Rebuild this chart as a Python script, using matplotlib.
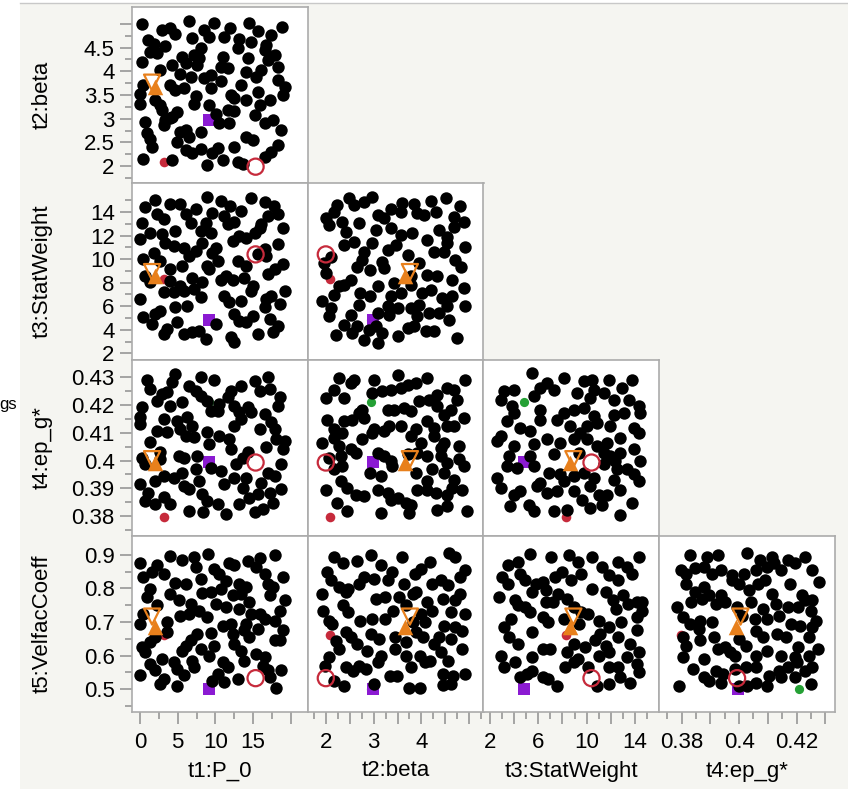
import matplotlib.pyplot as plt
from matplotlib.patches import Rectangle
from matplotlib.lines import Line2D

plt.rcParams['font.family'] = ['Liberation Sans', 'DejaVu Sans']

names = ["t1:P_0", "t2:beta", "t3:StatWeight", "t4:ep_g*", "t5:VelfacCoeff"]

# axis ranges as drawn (columns: t1..t4 on x, rows: t2..t5 on y)
col_lims = [(-1.07, 22.28), (1.61, 5.31), (1.46, 16.01), (0.3722, 0.4334)]
row_lims = [(1.641, 5.354), (1.49, 16.43), (0.3730, 0.4363), (0.4324, 0.9563)]

col_major = [[0, 5, 10, 15, 20], [2, 2.5, 3, 3.5, 4, 4.5, 5],
             [2, 4, 6, 8, 10, 12, 14], [0.38, 0.39, 0.40, 0.41, 0.42, 0.43]]
col_labels = [['0', '5', '10', '15', ''], ['2', '', '3', '', '4', '', ''],
              ['2', '', '6', '', '10', '', '14'], ['0.38', '', '0.4', '', '0.42', '']]
col_minor = [[2.5, 7.5, 12.5, 17.5], [1.75, 2.25, 2.75, 3.25, 3.75, 4.25, 4.75, 5.25],
             [3, 5, 7, 9, 11, 13, 15], [0.375, 0.385, 0.395, 0.405, 0.415, 0.425]]
row_major = [[2, 2.5, 3, 3.5, 4, 4.5, 5], [2, 4, 6, 8, 10, 12, 14],
             [0.38, 0.39, 0.40, 0.41, 0.42, 0.43], [0.5, 0.6, 0.7, 0.8, 0.9]]
row_labels = [['2', '2.5', '3', '3.5', '4', '4.5', ''], ['2', '4', '6', '8', '10', '12', '14'],
              ['0.38', '0.39', '0.4', '0.41', '0.42', '0.43'], ['0.5', '0.6', '0.7', '0.8', '0.9']]
row_minor = [[1.75, 2.25, 2.75, 3.25, 3.75, 4.25, 4.75], [3, 5, 7, 9, 11, 13, 15],
             [0.375, 0.385, 0.395, 0.405, 0.415, 0.425], [0.45, 0.55, 0.65, 0.75, 0.85]]

# black points, one list per panel (x, y)
t1_t2 = [(0.2, 4.99), (6.49, 5.06), (9.84, 5.02), (14.54, 5.01), (18.88, 4.94), (2.91, 4.87), (4.03, 4.92),
         (4.70, 4.78), (8.50, 4.87), (9.17, 4.73), (11.99, 4.92), (11.19, 4.73), (15.66, 4.85), (17.36, 4.76),
         (6.94, 4.71), (1.12, 4.66), (1.79, 4.57), (3.36, 4.54), (1.34, 4.41), (8.05, 4.50), (7.16, 4.34),
         (7.83, 4.27), (13.20, 4.69), (12.98, 4.50), (14.77, 4.61), (16.78, 4.55), (16.55, 4.45), (10.96, 4.31),
         (0.22, 4.20), (2.24, 4.38), (5.59, 4.31), (6.04, 4.17), (7.61, 4.14), (10.74, 4.10), (11.63, 4.06),
         (14.32, 4.27), (14.09, 3.99), (16.11, 4.03), (17.00, 4.24), (17.90, 4.34), (18.34, 4.10), (4.25, 4.13),
         (2.68, 4.03), (5.37, 3.95), (6.71, 3.88), (8.50, 3.85), (9.40, 3.92), (10.74, 3.79), (13.42, 3.72),
         (15.44, 3.88), (18.34, 3.81), (19.24, 3.67), (0.45, 3.71), (4.03, 3.71), (4.70, 3.60), (5.82, 3.64),
         (9.40, 3.64), (0.0, 3.53), (0.0, 3.32), (2.01, 3.39), (2.68, 3.29), (2.91, 3.18), (7.38, 3.48),
         (7.16, 3.32), (9.17, 3.29), (12.08, 3.51), (12.53, 3.43), (14.09, 3.39), (15.66, 3.57), (17.23, 3.39),
         (19.02, 3.50), (15.88, 3.29), (11.63, 3.18), (12.53, 3.16), (4.92, 3.15), (0.67, 2.94), (3.36, 2.97),
         (4.03, 3.01), (4.25, 3.04), (3.13, 2.86), (10.07, 3.11), (10.51, 2.90), (11.86, 2.90), (15.21, 3.08),
         (16.55, 2.92), (17.67, 2.97), (0.89, 2.69), (1.34, 2.58), (5.37, 2.72), (6.04, 2.76), (6.49, 2.62),
         (8.05, 2.72), (14.09, 2.62), (14.99, 2.55), (18.79, 2.76), (1.57, 2.41), (4.92, 2.50), (6.04, 2.34),
         (6.94, 2.27), (8.05, 2.37), (9.62, 2.27), (10.29, 2.39), (12.53, 2.41), (16.55, 2.20), (17.45, 2.30),
         (18.34, 2.44), (0.36, 2.16), (4.25, 2.13), (8.95, 2.02), (10.96, 2.13), (12.98, 2.09), (13.65, 2.04)]

t1_t3 = [(2.01, 15.05), (0.67, 14.41), (3.94, 14.69), (5.37, 14.63), (8.86, 15.25), (10.74, 14.91), (11.99, 14.49),
         (14.77, 15.14), (16.55, 14.86), (17.81, 14.49), (7.38, 14.21), (6.04, 13.79), (9.62, 13.93), (11.19, 13.65),
         (13.42, 14.12), (2.24, 13.79), (3.13, 13.36), (0.22, 13.08), (6.71, 13.08), (8.72, 13.08), (11.63, 12.94),
         (12.53, 13.17), (16.11, 12.94), (17.00, 13.65), (18.34, 13.79), (19.02, 12.66), (1.34, 12.24), (2.91, 12.10),
         (4.70, 12.38), (8.05, 12.38), (9.40, 12.24), (13.20, 11.96), (15.21, 12.24), (15.88, 12.66), (0.0, 11.68),
         (3.36, 11.40), (4.47, 11.12), (5.82, 10.97), (8.28, 11.40), (10.07, 10.97), (12.30, 11.54), (14.09, 11.82),
         (18.34, 11.25), (1.79, 10.55), (7.38, 10.69), (9.62, 10.55), (10.29, 9.85), (6.49, 10.27), (16.55, 10.83),
         (16.78, 10.27), (15.66, 10.41), (12.98, 9.85), (14.09, 9.43), (19.02, 9.57), (17.90, 9.15), (8.95, 9.43),
         (0.45, 9.99), (2.68, 9.85), (4.03, 9.15), (5.59, 9.43), (0.67, 8.58), (1.34, 8.02), (9.17, 9.15),
         (10.74, 8.22), (11.41, 8.58), (12.30, 8.22), (13.87, 8.44), (17.00, 8.72), (6.94, 8.44), (5.37, 7.74),
         (8.28, 8.02), (14.99, 7.74), (4.03, 8.16), (3.13, 7.18), (4.47, 7.18), (5.82, 7.32), (7.16, 7.46),
         (8.05, 6.75), (11.19, 6.89), (11.86, 6.33), (13.42, 6.47), (14.77, 7.32), (17.45, 6.89), (16.78, 6.61),
         (19.24, 7.32), (0.0, 6.61), (6.26, 6.05), (4.70, 5.91), (16.55, 5.91), (18.57, 6.19), (2.01, 5.35),
         (2.68, 5.63), (0.45, 5.07), (1.57, 4.50), (4.92, 4.64), (10.07, 4.50), (12.53, 5.35), (13.20, 4.78),
         (14.09, 4.64), (14.99, 5.21), (17.23, 4.93), (18.34, 4.36), (3.13, 3.66), (3.58, 4.08), (5.82, 3.66),
         (6.94, 3.80), (7.83, 3.94), (8.72, 3.24), (12.08, 3.38), (12.53, 2.96), (15.66, 3.66), (17.67, 3.80)]

t1_t4 = [(0.89, 0.4289), (4.70, 0.4311), (4.25, 0.4281), (8.05, 0.4299), (9.84, 0.4289), (13.42, 0.4269),
         (15.21, 0.4287), (17.00, 0.4299), (17.23, 0.4257), (12.08, 0.4251), (11.63, 0.4227), (1.34, 0.4257),
         (2.91, 0.4239), (3.58, 0.4245), (6.49, 0.4269), (7.38, 0.4251), (8.05, 0.4233), (8.90, 0.4213),
         (2.24, 0.4215), (4.03, 0.4197), (5.59, 0.4209), (10.51, 0.4203), (9.40, 0.4179), (12.53, 0.4197),
         (14.32, 0.4191), (13.20, 0.4173), (18.57, 0.4227), (18.34, 0.4197), (15.88, 0.4251), (0.22, 0.4191),
         (0.0, 0.4155), (0.0, 0.4131), (3.13, 0.4149), (4.92, 0.4143), (6.26, 0.4155), (6.94, 0.4125),
         (5.37, 0.4113), (10.29, 0.4179), (12.53, 0.4125), (13.42, 0.4149), (14.77, 0.4173), (16.55, 0.4167),
         (15.88, 0.4113), (17.45, 0.4137), (17.90, 0.4113), (2.24, 0.4107), (3.58, 0.4101), (6.04, 0.4089),
         (7.16, 0.4083), (8.95, 0.4101), (9.17, 0.4059), (10.51, 0.4089), (11.86, 0.4077), (12.08, 0.4041),
         (1.34, 0.4065), (2.68, 0.4029), (5.15, 0.4017), (5.82, 0.4011), (7.61, 0.4017), (14.32, 0.4029),
         (16.78, 0.4047), (18.12, 0.4077), (19.02, 0.4041), (19.24, 0.4071), (0.22, 0.4011), (0.67, 0.3987),
         (2.68, 0.4005), (9.40, 0.3975), (10.74, 0.3963), (12.75, 0.3987), (13.65, 0.4011), (18.79, 0.3987),
         (17.00, 0.3957), (7.38, 0.3969), (5.59, 0.3957), (4.47, 0.3939), (3.13, 0.3945), (0.0, 0.3917),
         (2.01, 0.3927), (5.82, 0.3909), (6.49, 0.3897), (7.83, 0.3927), (11.19, 0.3917), (12.53, 0.3939),
         (13.65, 0.3903), (14.09, 0.3936), (16.11, 0.3921), (17.90, 0.3945), (18.79, 0.3897), (17.23, 0.3885),
         (1.12, 0.3885), (0.67, 0.3855), (2.01, 0.3843), (3.13, 0.3869), (4.03, 0.3843), (8.28, 0.3879),
         (8.95, 0.3855), (10.29, 0.3843), (14.54, 0.3867), (15.66, 0.3879), (13.20, 0.3843), (17.67, 0.3849),
         (6.49, 0.3819), (8.41, 0.3817), (11.41, 0.3807), (15.21, 0.3817), (16.33, 0.3825)]

t1_t5 = [(0.0, 0.875), (3.94, 0.895), (5.59, 0.885), (7.16, 0.893), (9.04, 0.903), (11.86, 0.875), (14.32, 0.881),
         (15.88, 0.891), (17.99, 0.898), (2.24, 0.868), (3.13, 0.843), (1.57, 0.848), (0.45, 0.833), (7.38, 0.863),
         (9.84, 0.858), (10.51, 0.843), (12.53, 0.868), (15.44, 0.863), (16.55, 0.843), (19.02, 0.835),
         (8.05, 0.828), (11.41, 0.823), (4.70, 0.815), (6.04, 0.813), (13.20, 0.813), (14.09, 0.804),
         (17.00, 0.813), (17.67, 0.804), (1.34, 0.799), (0.89, 0.774), (4.03, 0.784), (8.28, 0.786),
         (9.40, 0.789), (10.74, 0.799), (12.30, 0.779), (13.42, 0.784), (5.15, 0.764), (6.71, 0.754),
         (10.07, 0.752), (11.41, 0.744), (13.20, 0.739), (17.23, 0.779), (19.24, 0.764), (14.54, 0.759),
         (2.24, 0.749), (18.57, 0.734), (0.45, 0.724), (5.37, 0.719), (6.49, 0.724), (7.83, 0.734),
         (8.95, 0.714), (14.77, 0.724), (15.88, 0.724), (16.55, 0.709), (17.90, 0.702), (0.0, 0.694),
         (3.58, 0.699), (10.96, 0.689), (12.08, 0.694), (14.09, 0.694), (15.66, 0.680), (19.02, 0.675),
         (3.58, 0.670), (7.61, 0.665), (9.40, 0.667), (12.30, 0.665), (13.87, 0.675), (14.54, 0.655),
         (1.34, 0.640), (6.71, 0.645), (6.04, 0.630), (8.05, 0.620), (9.84, 0.630), (12.53, 0.635),
         (13.42, 0.615), (17.90, 0.645), (18.57, 0.645), (0.22, 0.625), (0.67, 0.610), (5.59, 0.615),
         (9.17, 0.600), (15.44, 0.605), (16.55, 0.595), (1.34, 0.575), (2.91, 0.590), (4.47, 0.580),
         (6.94, 0.585), (10.96, 0.580), (13.87, 0.585), (16.33, 0.570), (17.00, 0.556), (2.01, 0.556),
         (4.92, 0.561), (7.16, 0.565), (0.0, 0.541), (3.13, 0.531), (2.68, 0.516), (4.92, 0.511),
         (5.82, 0.541), (10.29, 0.546), (11.63, 0.565), (11.19, 0.521), (12.98, 0.531), (18.79, 0.556),
         (17.23, 0.536), (18.12, 0.504), (9.62, 0.526), (2.01, 0.655)]

t2_t3 = [(2.48, 15.14), (2.79, 14.86), (2.97, 15.28), (3.36, 14.21), (3.60, 14.77), (3.85, 14.66), (4.20, 14.94),
         (4.51, 15.14), (4.82, 14.49), (2.23, 14.57), (1.99, 13.45), (2.06, 12.89), (2.16, 14.01), (2.34, 13.17),
         (2.58, 14.57), (2.69, 13.03), (3.08, 13.73), (3.22, 13.45), (3.57, 14.01), (3.92, 13.87), (4.06, 13.73),
         (4.30, 14.01), (4.69, 13.59), (4.90, 13.17), (2.41, 12.32), (2.58, 11.48), (3.04, 12.46), (3.36, 12.60),
         (3.57, 12.04), (3.81, 12.18), (4.13, 11.62), (4.37, 12.46), (4.69, 12.75), (4.55, 11.90), (2.37, 11.20),
         (2.79, 10.64), (2.97, 11.34), (3.29, 10.78), (3.46, 11.20), (3.71, 10.35), (4.27, 10.64), (4.48, 10.64),
         (4.55, 11.34), (4.93, 11.06), (2.09, 10.21), (1.95, 9.65), (1.99, 8.81), (2.76, 9.93), (3.18, 9.79),
         (2.65, 9.37), (2.93, 9.09), (3.22, 9.23), (3.95, 9.65), (4.13, 8.67), (4.34, 8.53), (4.72, 9.93),
         (4.83, 9.37), (3.78, 8.53), (4.65, 8.24), (3.43, 7.96), (2.27, 7.68), (2.16, 6.98), (2.51, 8.24),
         (2.37, 7.82), (2.72, 7.12), (2.93, 6.84), (3.08, 7.68), (3.36, 6.84), (3.57, 7.12), (3.78, 7.82),
         (4.02, 7.12), (4.20, 7.40), (4.44, 6.70), (4.65, 6.84), (4.90, 7.54), (1.92, 6.42), (3.29, 5.99),
         (3.50, 5.85), (2.09, 5.85), (2.06, 5.15), (2.37, 4.45), (2.51, 5.29), (2.69, 6.14), (3.08, 5.43),
         (3.32, 5.29), (3.78, 5.85), (3.95, 6.14), (3.92, 5.15), (4.16, 5.43), (4.37, 5.43), (4.55, 5.99),
         (4.58, 4.87), (4.93, 5.99), (2.65, 4.31), (2.20, 3.60), (2.55, 3.74), (2.79, 3.18), (2.90, 4.03),
         (3.08, 2.90), (3.18, 3.74), (3.50, 3.46), (3.71, 4.17), (3.85, 4.31), (4.09, 3.88), (4.27, 3.88),
         (4.76, 3.32), (3.04, 4.31)]

t2_t4 = [(2.27, 0.4297), (2.51, 0.4279), (2.58, 0.4291), (3.00, 0.4291), (3.50, 0.4309), (3.71, 0.4273),
         (3.88, 0.4279), (4.13, 0.4297), (4.55, 0.4261), (4.69, 0.4255), (4.93, 0.4291), (2.16, 0.4255),
         (2.37, 0.4225), (1.99, 0.4225), (3.18, 0.4249), (3.36, 0.4255), (3.57, 0.4261), (2.97, 0.4243),
         (4.16, 0.4219), (4.34, 0.4237), (4.76, 0.4219), (2.02, 0.4147), (2.37, 0.4141), (2.55, 0.4147),
         (2.69, 0.4171), (2.76, 0.4183), (2.79, 0.4153), (3.29, 0.4183), (3.43, 0.4183), (3.64, 0.4189),
         (3.78, 0.4177), (3.95, 0.4213), (4.34, 0.4195), (4.48, 0.4165), (4.62, 0.4183), (4.90, 0.4153),
         (3.00, 0.4112), (2.16, 0.4112), (3.57, 0.4124), (4.13, 0.4141), (4.27, 0.4118), (4.55, 0.4124),
         (4.69, 0.4124), (1.92, 0.4064), (2.16, 0.4082), (2.34, 0.4100), (2.27, 0.4052), (2.76, 0.4076),
         (2.97, 0.4100), (3.22, 0.4106), (3.32, 0.4124), (3.78, 0.4088), (3.88, 0.4112), (3.99, 0.4064),
         (4.27, 0.4088), (4.48, 0.4064), (4.41, 0.4046), (4.79, 0.4052), (2.51, 0.4040), (3.08, 0.4028),
         (2.06, 0.4010), (2.30, 0.4016), (2.62, 0.4028), (3.22, 0.4016), (3.36, 0.3998), (3.71, 0.4022),
         (3.92, 0.4028), (4.13, 0.4016), (4.41, 0.4016), (4.55, 0.3992), (4.79, 0.4004), (2.16, 0.3968),
         (2.34, 0.3980), (2.93, 0.3956), (3.15, 0.3944), (3.39, 0.3980), (3.88, 0.3956), (4.23, 0.3968),
         (4.48, 0.3956), (4.69, 0.3932), (4.90, 0.3980), (1.99, 0.3896), (2.30, 0.3926), (2.44, 0.3902),
         (2.62, 0.3878), (2.79, 0.3872), (3.08, 0.3896), (3.29, 0.3884), (3.50, 0.3866), (3.67, 0.3848),
         (3.78, 0.3842), (3.92, 0.3896), (4.13, 0.3896), (4.30, 0.3884), (4.55, 0.3878), (4.65, 0.3902),
         (4.86, 0.3896), (2.23, 0.3848), (2.44, 0.3818), (3.15, 0.3812), (3.74, 0.3812), (4.34, 0.3824),
         (4.55, 0.3836), (4.97, 0.3818), (3.36, 0.3860), (4.13, 0.3926)]

t2_t5 = [(2.16, 0.892), (2.35, 0.874), (2.64, 0.882), (2.94, 0.899), (3.16, 0.869), (3.60, 0.894), (3.38, 0.849),
         (3.86, 0.844), (4.00, 0.856), (4.19, 0.879), (4.59, 0.904), (4.70, 0.894), (4.93, 0.854), (4.82, 0.834),
         (2.01, 0.849), (2.09, 0.826), (2.27, 0.804), (2.46, 0.799), (2.79, 0.834), (2.68, 0.814), (3.01, 0.829),
         (3.30, 0.824), (3.64, 0.814), (3.89, 0.789), (4.23, 0.814), (4.41, 0.824), (4.56, 0.809), (4.82, 0.784),
         (1.90, 0.784), (2.42, 0.789), (3.05, 0.769), (3.23, 0.774), (3.53, 0.774), (3.82, 0.784), (4.11, 0.759),
         (4.45, 0.769), (4.70, 0.764), (1.94, 0.734), (2.13, 0.694), (2.35, 0.749), (2.46, 0.729), (2.71, 0.704),
         (2.97, 0.709), (3.23, 0.709), (3.41, 0.734), (3.67, 0.749), (4.00, 0.724), (4.23, 0.734), (4.63, 0.729),
         (4.93, 0.724), (2.05, 0.704), (3.82, 0.699), (4.08, 0.699), (4.48, 0.689), (4.70, 0.684), (4.85, 0.674),
         (2.20, 0.644), (2.42, 0.669), (2.53, 0.654), (2.64, 0.634), (2.94, 0.664), (3.12, 0.649), (3.45, 0.654),
         (3.67, 0.639), (3.89, 0.669), (4.04, 0.654), (4.26, 0.634), (4.37, 0.654), (4.63, 0.649), (4.85, 0.620),
         (2.86, 0.615), (3.16, 0.600), (3.45, 0.620), (3.67, 0.600), (3.97, 0.600), (4.41, 0.610), (2.27, 0.620),
         (2.05, 0.595), (1.98, 0.570), (2.42, 0.565), (2.57, 0.555), (2.68, 0.570), (2.83, 0.560), (3.08, 0.580),
         (3.34, 0.540), (3.49, 0.540), (3.78, 0.565), (4.08, 0.580), (4.19, 0.585), (4.56, 0.585), (4.45, 0.545),
         (4.67, 0.540), (4.93, 0.545), (2.16, 0.525), (2.38, 0.510), (3.01, 0.515), (3.75, 0.505), (3.97, 0.505),
         (4.45, 0.513), (4.63, 0.515)]

t3_t4 = [(5.48, 0.4313), (6.72, 0.4279), (7.28, 0.4255), (8.10, 0.4297), (9.75, 0.4285), (10.44, 0.4291),
         (11.82, 0.4291), (12.92, 0.4261), (13.75, 0.4291), (3.14, 0.4249), (3.97, 0.4255), (5.62, 0.4231),
         (6.17, 0.4261), (9.20, 0.4243), (10.58, 0.4255), (11.41, 0.4243), (13.47, 0.4219), (14.30, 0.4195),
         (2.87, 0.4219), (3.83, 0.4195), (10.31, 0.4225), (12.23, 0.4219), (14.44, 0.4171), (6.17, 0.4183),
         (8.10, 0.4171), (8.93, 0.4183), (9.75, 0.4189), (10.58, 0.4159), (12.23, 0.4165), (13.06, 0.4171),
         (3.42, 0.4141), (3.97, 0.4171), (4.52, 0.4118), (5.35, 0.4106), (6.17, 0.4147), (7.55, 0.4147),
         (8.65, 0.4124), (10.03, 0.4124), (9.48, 0.4100), (10.86, 0.4135), (11.96, 0.4124), (13.89, 0.4118),
         (14.30, 0.4100), (2.87, 0.4088), (2.59, 0.4070), (3.97, 0.4052), (5.62, 0.4058), (6.72, 0.4076),
         (7.83, 0.4064), (8.93, 0.4076), (10.03, 0.4076), (11.68, 0.4064), (12.78, 0.4082), (13.89, 0.4040),
         (14.44, 0.3998), (10.86, 0.4052), (11.41, 0.4028), (11.96, 0.4016), (12.78, 0.4028), (3.56, 0.4016),
         (5.35, 0.4016), (7.28, 0.4022), (9.34, 0.4028), (12.37, 0.3998), (2.59, 0.3938), (3.42, 0.3980),
         (4.25, 0.3974), (5.62, 0.3980), (6.86, 0.3956), (7.83, 0.3950), (8.93, 0.3944), (9.75, 0.3956),
         (10.58, 0.3938), (11.41, 0.3986), (12.51, 0.3968), (13.34, 0.3968), (13.89, 0.3950), (6.17, 0.3920),
         (8.10, 0.3926), (10.31, 0.3908), (12.23, 0.3932), (2.87, 0.3902), (3.97, 0.3878), (4.52, 0.3890),
         (5.90, 0.3908), (6.72, 0.3884), (7.55, 0.3890), (8.93, 0.3890), (9.62, 0.3860), (10.99, 0.3878),
         (11.68, 0.3878), (12.78, 0.3896), (14.30, 0.3926), (3.69, 0.3836), (5.21, 0.3842), (5.62, 0.3818),
         (7.28, 0.3818), (8.38, 0.3824), (10.31, 0.3830), (11.27, 0.3842), (12.78, 0.3806), (13.75, 0.3848)]

t3_t5 = [(3.45, 0.869), (4.32, 0.879), (5.33, 0.902), (7.07, 0.894), (8.52, 0.899), (9.25, 0.879), (10.41, 0.894),
         (11.28, 0.864), (12.58, 0.879), (13.30, 0.864), (14.32, 0.894), (3.01, 0.834), (3.45, 0.814), (4.46, 0.844),
         (4.90, 0.824), (5.77, 0.814), (6.35, 0.819), (7.36, 0.834), (7.94, 0.849), (8.67, 0.824), (9.54, 0.844),
         (11.86, 0.839), (12.58, 0.824), (13.74, 0.844), (6.64, 0.794), (5.48, 0.789), (7.65, 0.784), (10.41, 0.799),
         (11.57, 0.789), (13.01, 0.779), (14.17, 0.759), (2.72, 0.774), (4.03, 0.764), (4.32, 0.749), (4.90, 0.744),
         (5.33, 0.729), (6.64, 0.759), (7.22, 0.759), (8.38, 0.769), (8.96, 0.744), (9.54, 0.729), (10.12, 0.724),
         (12.14, 0.764), (12.43, 0.739), (13.45, 0.754), (14.61, 0.759), (3.74, 0.709), (3.16, 0.684), (6.35, 0.714),
         (6.78, 0.699), (8.09, 0.709), (9.39, 0.694), (10.99, 0.704), (11.86, 0.684), (12.87, 0.699), (14.17, 0.714),
         (14.61, 0.734), (3.59, 0.655), (4.32, 0.635), (5.48, 0.670), (6.35, 0.620), (6.93, 0.620), (8.96, 0.635),
         (9.83, 0.625), (10.70, 0.645), (11.13, 0.665), (11.57, 0.630), (12.58, 0.655), (13.59, 0.635), (14.17, 0.675),
         (2.87, 0.600), (5.48, 0.595), (8.38, 0.610), (9.25, 0.590), (10.99, 0.600), (11.86, 0.610), (13.30, 0.595),
         (14.32, 0.610), (3.16, 0.565), (4.03, 0.580), (4.46, 0.535), (5.04, 0.545), (5.48, 0.555), (6.35, 0.535),
         (7.51, 0.510), (8.23, 0.565), (8.96, 0.580), (10.12, 0.565), (11.86, 0.565), (12.58, 0.565), (12.72, 0.535),
         (14.17, 0.575), (14.32, 0.550), (10.84, 0.510), (11.86, 0.515), (13.59, 0.520), (6.78, 0.530)]

t4_t5 = [(0.3828, 0.899), (0.3889, 0.894), (0.3926, 0.899), (0.4029, 0.904), (0.4072, 0.884), (0.4115, 0.894),
         (0.4170, 0.884), (0.4231, 0.894), (0.3798, 0.854), (0.3816, 0.844), (0.3846, 0.859), (0.3877, 0.864),
         (0.3907, 0.844), (0.3938, 0.854), (0.3975, 0.839), (0.4017, 0.844), (0.4060, 0.854), (0.4097, 0.864),
         (0.4121, 0.874), (0.4145, 0.854), (0.4194, 0.874), (0.4255, 0.854), (0.4280, 0.819), (0.3816, 0.814),
         (0.3846, 0.789), (0.3877, 0.804), (0.3895, 0.779), (0.3938, 0.779), (0.3975, 0.824), (0.3999, 0.814),
         (0.4036, 0.794), (0.4066, 0.814), (0.4090, 0.824), (0.4115, 0.784), (0.4176, 0.814), (0.4219, 0.779),
         (0.4231, 0.764), (0.4255, 0.764), (0.3785, 0.744), (0.3804, 0.714), (0.3834, 0.759), (0.3871, 0.769),
         (0.3920, 0.754), (0.3950, 0.759), (0.3993, 0.744), (0.4042, 0.759), (0.4084, 0.739), (0.4127, 0.754),
         (0.4170, 0.744), (0.4206, 0.744), (0.4249, 0.734), (0.4267, 0.704), (0.3828, 0.694), (0.3865, 0.704),
         (0.3907, 0.699), (0.4011, 0.719), (0.4054, 0.709), (0.4097, 0.709), (0.4139, 0.719), (0.4182, 0.694),
         (0.4212, 0.689), (0.4255, 0.684), (0.3804, 0.655), (0.3816, 0.630), (0.3859, 0.679), (0.3865, 0.645),
         (0.3913, 0.655), (0.3950, 0.625), (0.3999, 0.650), (0.4023, 0.630), (0.4060, 0.674), (0.4084, 0.655),
         (0.4133, 0.665), (0.4164, 0.655), (0.4206, 0.625), (0.4243, 0.655), (0.4274, 0.620), (0.3804, 0.595),
         (0.3877, 0.590), (0.3926, 0.620), (0.3968, 0.610), (0.3987, 0.600), (0.4060, 0.600), (0.4097, 0.615),
         (0.4145, 0.600), (0.4194, 0.595), (0.4243, 0.600), (0.3840, 0.560), (0.3877, 0.535), (0.3895, 0.525),
         (0.3938, 0.520), (0.3920, 0.555), (0.3987, 0.560), (0.4023, 0.565), (0.4060, 0.565), (0.4103, 0.540),
         (0.4139, 0.555), (0.4170, 0.565), (0.4200, 0.580), (0.4231, 0.555), (0.4255, 0.565), (0.3791, 0.510),
         (0.3999, 0.510), (0.4029, 0.510), (0.4060, 0.520), (0.4097, 0.510), (0.4145, 0.535), (0.4194, 0.535),
         (0.4249, 0.515), (0.3944, 0.545)]

# highlighted rows: values of t1..t5
orange_open = [1.6, 3.76, 8.9, 0.4005, 0.716]
orange_fill = [2.0, 3.66, 8.6, 0.3990, 0.686]
purple_sq = [9.2, 2.98, 4.85, 0.3995, 0.500]
red_ring = [15.35, 1.99, 10.4, 0.3993, 0.533]
red_dot = [3.2, 2.08, 8.3, 0.3797, 0.662]
green_dot = [9.2, 2.95, 4.85, 0.4210, 0.500]

panel_points = {(0, 1): t1_t2, (0, 2): t1_t3, (0, 3): t1_t4, (0, 4): t1_t5,
                (1, 2): t2_t3, (1, 3): t2_t4, (1, 4): t2_t5,
                (2, 3): t3_t4, (2, 4): t3_t5, (3, 4): t4_t5}

W, H = 848, 789
fig = plt.figure(figsize=(W / 100, H / 100), dpi=100)
fig.patch.set_facecolor('white')
fig.add_artist(Rectangle((20 / W, 0), 1, 1 - 3 / H, transform=fig.transFigure,
                         facecolor='#f5f5f1', edgecolor='none', zorder=0))
fig.add_artist(Line2D([20 / W, 1], [1 - 3 / H, 1 - 3 / H], transform=fig.transFigure,
                      color='#c8c8c8', lw=1))

x0, y0, pw, ph = 132, 7, 175.75, 176.25
tick_col = '#8e8e8e'
fs = 16

for i in range(4):          # row -> y variable i+1
    for j in range(i + 1):  # column -> x variable j
        ax = fig.add_axes([(x0 + j * pw) / W, 1 - (y0 + (i + 1) * ph) / H, pw / W, ph / H])
        ax.set_facecolor('white')
        pts = panel_points[(j, i + 1)]
        ax.scatter([p[0] for p in pts], [p[1] for p in pts], s=80, c='black', linewidths=0, zorder=2)

        xv, yv = j, i + 1
        ax.scatter(green_dot[xv], green_dot[yv], s=44, c='#25a035', linewidths=0, zorder=1.5)
        ax.scatter(purple_sq[xv], purple_sq[yv], marker='s', s=84, c='#8b1ad2', linewidths=0, zorder=1.6)
        ax.scatter(red_dot[xv], red_dot[yv], s=48, c='#c62a3b', linewidths=0, zorder=1.7)
        ax.scatter(red_ring[xv], red_ring[yv], s=135, facecolors='none', edgecolors='#c62a3b',
                   linewidths=1.6, zorder=3)
        ax.scatter(orange_fill[xv], orange_fill[yv], marker='^', s=125, c='#e8801c', linewidths=0, zorder=3)
        ax.scatter(orange_open[xv], orange_open[yv], marker='v', s=135, facecolors='none',
                   edgecolors='#e8801c', linewidths=1.6, zorder=3)

        ax.set_xlim(col_lims[j])
        ax.set_ylim(row_lims[i])
        for sp in ax.spines.values():
            sp.set_color('#ababab')
            sp.set_linewidth(1.2)

        ax.tick_params(which='both', left=False, bottom=False, labelleft=False, labelbottom=False)
        if j == 0:
            ax.set_yticks(row_major[i])
            ax.set_yticklabels(row_labels[i])
            ax.set_yticks(row_minor[i], minor=True)
            ax.tick_params(axis='y', which='both', left=True, labelleft=True, direction='out',
                           color=tick_col, width=1.1, labelsize=fs, pad=4)
            ax.tick_params(axis='y', which='major', length=8.5)
            ax.tick_params(axis='y', which='minor', length=5)
            ax.set_ylim(row_lims[i])
        if i == 3:
            ax.set_xticks(col_major[j])
            ax.set_xticklabels(col_labels[j])
            ax.set_xticks(col_minor[j], minor=True)
            ax.tick_params(axis='x', which='both', bottom=True, labelbottom=True, direction='out',
                           color=tick_col, width=1.1, labelsize=fs, pad=6)
            ax.tick_params(axis='x', which='major', length=8.5)
            ax.tick_params(axis='x', which='minor', length=5)
            ax.set_xlim(col_lims[j])

# variable names
for i in range(4):
    fig.text(42 / W, 1 - (y0 + (i + 0.5) * ph) / H, names[i + 1], rotation=90,
             ha='center', va='center', fontsize=fs)
for j in range(4):
    fig.text((x0 + (j + 0.5) * pw) / W, 1 - 771 / H, names[j], ha='center', va='center', fontsize=fs)

fig.text(-1 / W, 1 - 405 / H, 'gs', ha='left', va='center', fontsize=12)

fig.savefig('out.png', dpi=100)
